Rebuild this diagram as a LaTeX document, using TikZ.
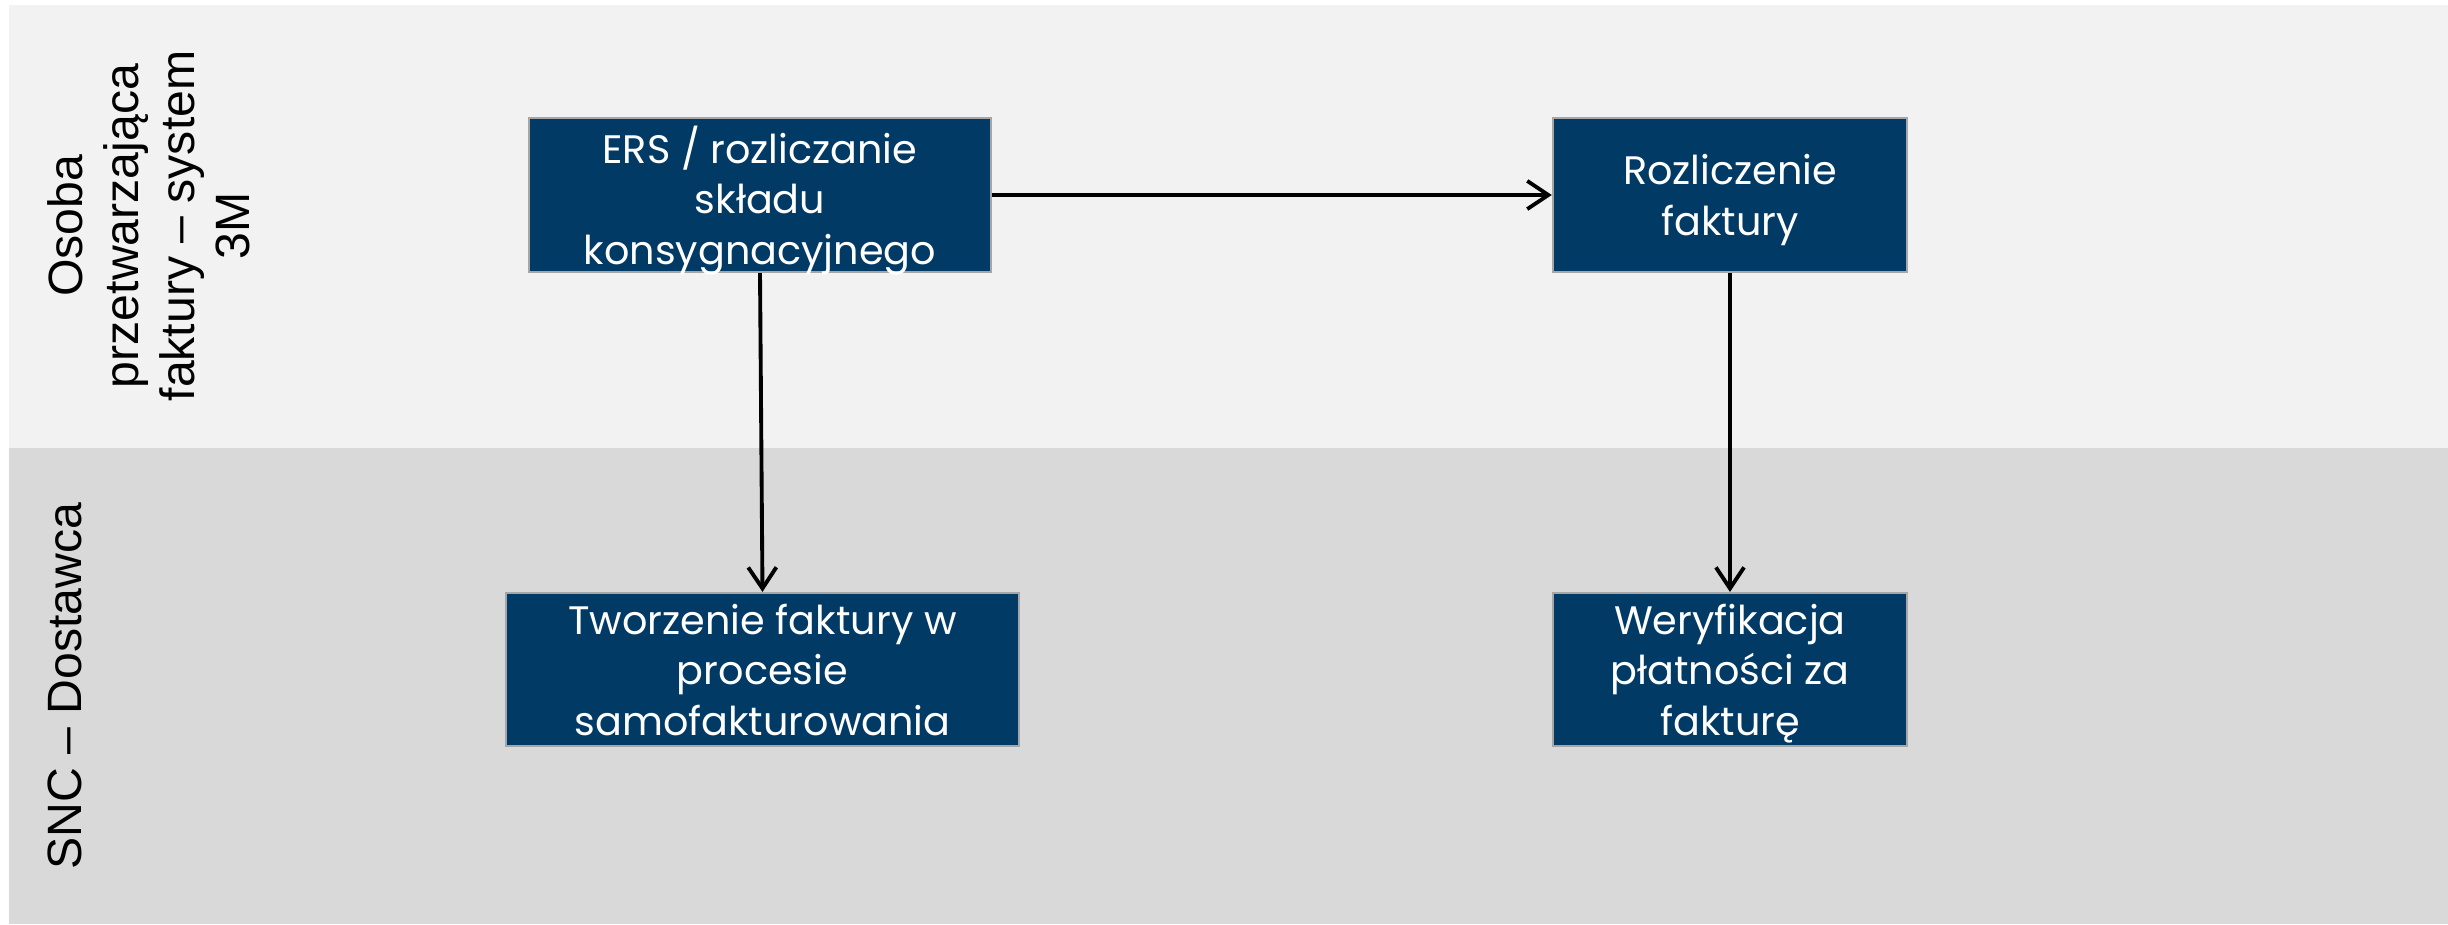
\documentclass[tikz,border=0pt]{standalone}
\usepackage{fontspec}
\setmainfont{Liberation Sans}
\newfontfamily\boxfont{Poppins}
\usetikzlibrary{arrows.meta}
\definecolor{laneTop}{HTML}{F2F2F2}
\definecolor{laneBot}{HTML}{D9D9D9}
\definecolor{navy}{RGB}{2,58,102}
\definecolor{edgegray}{HTML}{A6A6A6}

\begin{document}
\begin{tikzpicture}[x=0.01cm,y=-0.01cm,
  task/.style={draw=edgegray, line width=0.6pt, fill=navy, text=white,
    align=center, inner sep=0pt, text depth=0pt,
    font=\boxfont\fontsize{11.3}{14.4}\selectfont},
  lanelabel/.style={rotate=90, anchor=north, align=center, inner sep=0pt,
    font=\fontsize{13.7}{15.85}\selectfont},
  flow/.style={-{Straight Barb[length=6pt,width=8pt]}, line width=1.1pt}]
\useasboundingbox (0,0) rectangle (2448,924);
\fill[white] (0,0) rectangle (2448,924);

% swimlanes
\fill[laneTop] (9,5) rectangle (2448,448);
\fill[laneBot] (9,448) rectangle (2448,924);
\node[lanelabel] (l1) at (47,226) {Osoba\\przetwarzająca\\faktury – system\\3M};
\node[lanelabel] (l2) at (47,686) {SNC – Dostawca};

% process steps
\node[task, minimum width=4.62cm, minimum height=1.54cm] (ers) at (760,195)
  {ERS / rozliczanie\\składu\\konsygnacyjnego};
\node[task, minimum width=3.54cm, minimum height=1.54cm] (roz) at (1730,195)
  {Rozliczenie\\faktury};
\node[task, minimum width=5.13cm, minimum height=1.53cm] (tw) at (762.5,669.5)
  {Tworzenie faktury w\\procesie\\samofakturowania};
\node[task, minimum width=3.54cm, minimum height=1.53cm] (wer) at (1730,669.5)
  {Weryfikacja\\płatności za\\fakturę};

% flows
\draw[flow] (ers) -- (roz);
\draw[flow] (ers.south) -- (tw.north);
\draw[flow] (roz) -- (wer);
\end{tikzpicture}
\end{document}
